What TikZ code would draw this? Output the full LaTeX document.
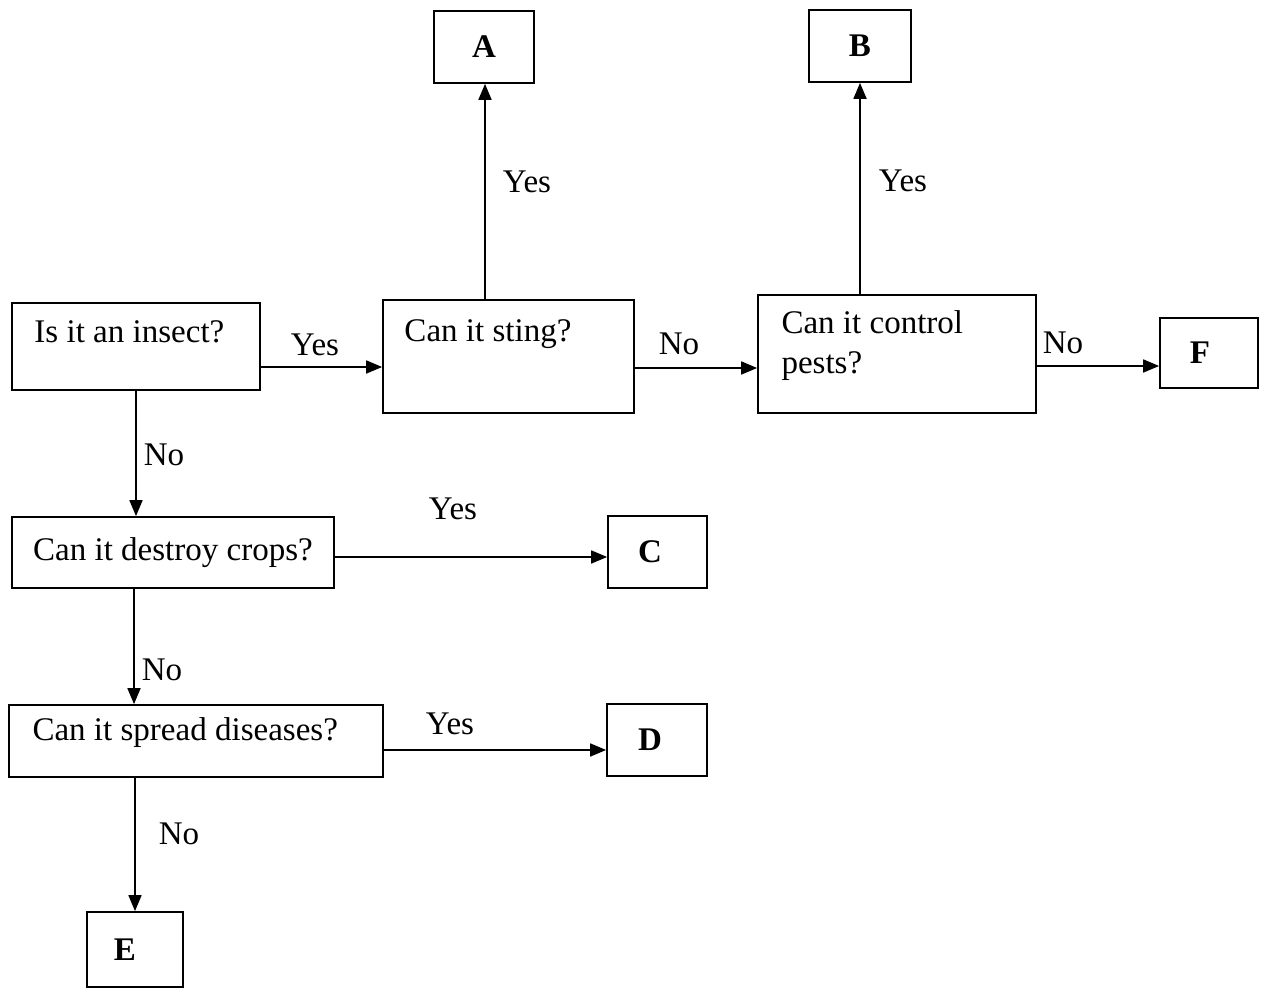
\documentclass[tikz,border=0pt]{standalone}
\usepackage{fontspec}
\setmainfont{Liberation Serif}
\usetikzlibrary{arrows.meta}
\begin{document}
\begin{tikzpicture}[x=0.02cm,y=-0.02cm,
  every node/.style={font=\fontsize{18.8}{22.7}\selectfont},
  qbox/.style={draw,line width=1pt,rectangle,inner sep=0pt},
  abox/.style={qbox,font=\fontsize{18.8}{22.7}\selectfont\bfseries},
  qtext/.style={inner sep=0pt,align=left},
  ans/.style={inner sep=0pt},
  arr/.style={line width=1pt,-{Triangle[length=0.32cm,width=0.26cm]}}]
\useasboundingbox (0,0) rectangle (1261,989);

% question boxes
\node[qbox,minimum width=4.96cm,minimum height=1.74cm] (insect) at (136,346.5) {};
\node[qbox,minimum width=5.02cm,minimum height=2.26cm] (sting) at (508.5,356.5) {};
\node[qbox,minimum width=5.56cm,minimum height=2.36cm] (ctrl) at (897,354) {};
\node[qbox,minimum width=6.44cm,minimum height=1.42cm] (destroy) at (173,552.5) {Can it destroy crops?};
\node[qbox,minimum width=7.48cm,minimum height=1.44cm] (spread) at (196,741) {};

% question texts
\node[qtext,anchor=west] (tinsect) at ([xshift=0.46cm,yshift=-0.6cm]insect.north west) {Is it an insect?};
\node[qtext,anchor=west] (tsting) at ([xshift=0.44cm,yshift=-0.7cm]sting.north west) {Can it sting?};
\node[qtext,anchor=west] (tctrl) at ([xshift=0.48cm,yshift=-1.02cm]ctrl.north west) {Can it control\\pests?};
\node[qtext,anchor=west] (tspread) at ([xshift=0.48cm,yshift=-0.56cm]spread.north west) {Can it spread diseases?};

% answer boxes (letters sit a little left of centre in the lower boxes)
\node[abox,minimum width=2cm,minimum height=1.44cm] (A) at (484,47) {A};
\node[abox,minimum width=2.04cm,minimum height=1.44cm] (B) at (860,46) {B};
\node[abox,minimum width=1.98cm,minimum height=1.44cm] (C) at (657.5,552) {C\kern0.3cm};
\node[abox,minimum width=2cm,minimum height=1.44cm] (D) at (657,740) {D\kern0.28cm};
\node[abox,minimum width=1.92cm,minimum height=1.5cm] (E) at (135,949.5) {E\kern0.4cm};
\node[abox,minimum width=1.96cm,minimum height=1.4cm] (F) at (1209,353) {F\kern0.36cm};

% connector anchors
\coordinate (p1) at ([yshift=-0.41cm]insect.east);
\coordinate (p2) at ([xshift=-0.47cm]sting.north);
\coordinate (p3) at ([yshift=-0.23cm]sting.east);
\coordinate (p4) at ([xshift=-0.74cm]ctrl.north);
\coordinate (p5) at ([yshift=-0.24cm]ctrl.east);
\coordinate (p6) at ([yshift=-0.09cm]destroy.east);
\coordinate (p7) at ([xshift=-0.78cm]destroy.south);
\coordinate (p8) at ([yshift=-0.18cm]spread.east);

% connectors
\draw[arr] (p1) -- (p1 -| sting.west);
\draw[arr] (p2) -- (p2 |- A.south);
\draw[arr] (p3) -- (p3 -| ctrl.west);
\draw[arr] (p4) -- (p4 |- B.south);
\draw[arr] (p5) -- (p5 -| F.west);
\draw[arr] (insect.south) -- (insect.south |- destroy.north);
\draw[arr] (p6) -- (p6 -| C.west);
\draw[arr] (p7) -- (p7 |- spread.north);
\draw[arr] (p8) -- (p8 -| D.west);
\draw[arr] (E.north |- spread.south) -- (E.north);

% answer labels
\node[ans] (y1) at (315,345) {Yes};
\node[ans] (y2) at (527,182) {Yes};
\node[ans] (n1) at (679,344) {No};
\node[ans] (y3) at (903,181) {Yes};
\node[ans] (n2) at (1063,343) {No};
\node[ans] (n3) at (164,455) {No};
\node[ans] (y4) at (453,509) {Yes};
\node[ans] (n4) at (162,670) {No};
\node[ans] (y5) at (450,724) {Yes};
\node[ans] (n5) at (179,834) {No};
\end{tikzpicture}
\end{document}
